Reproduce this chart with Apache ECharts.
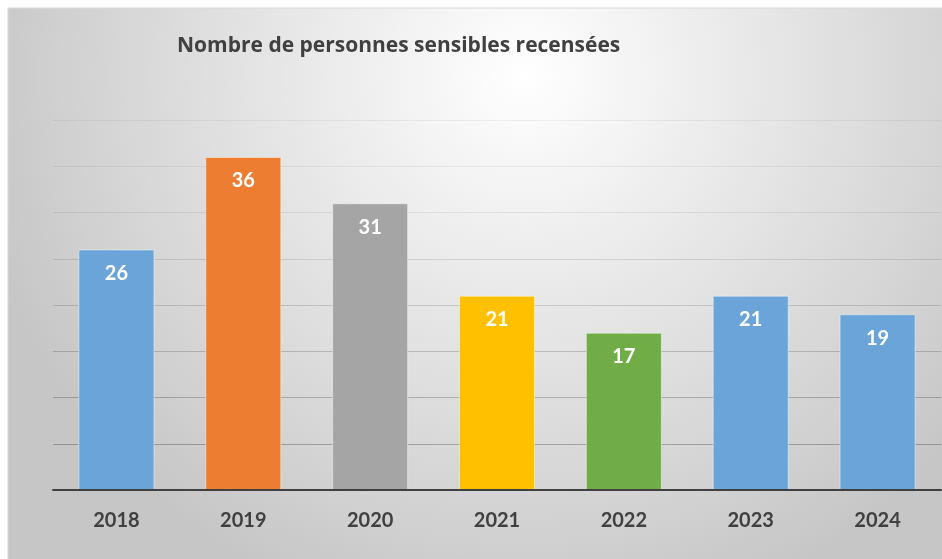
<!DOCTYPE html>
<html>
<head>
<meta charset="utf-8">
<title>Nombre de personnes sensibles recensées</title>
<script src="https://cdn.jsdelivr.net/npm/echarts@6/dist/echarts.min.js"></script>
<style>
  html, body { margin: 0; padding: 0; background: #ffffff; }
  #chart { width: 942px; height: 559px; }
</style>
</head>
<body>
<div id="chart"></div>
<script>
// données du graphique
var years = ['2018', '2019', '2020', '2021', '2022', '2023', '2024'];
var counts = [26, 36, 31, 21, 17, 21, 19];
var barColors = ['#6aa4d8', '#ed7d31', '#a5a5a5', '#ffc000', '#70ad47', '#6aa4d8', '#6aa4d8'];
// gridlines get darker towards the bottom, like in the original
var gridColors = ['rgba(0,0,0,0)', 'rgba(0,0,0,0.26)', 'rgba(0,0,0,0.22)', 'rgba(0,0,0,0.18)',
  'rgba(0,0,0,0.14)', 'rgba(0,0,0,0.11)', 'rgba(0,0,0,0.08)', 'rgba(0,0,0,0.06)', 'rgba(0,0,0,0.05)'];

var myChart = echarts.init(document.getElementById('chart'));

var option = {
	animation: false,
	graphic: [{
		type: 'rect',
		z: -10,
		silent: true,
		shape: { x: 8, y: 8, width: 940, height: 560 },
		style: {
			fill: {
				type: 'radial',
				x: 0.55, y: 0.12, r: 1.0,
				colorStops: [
					{ offset: 0, color: '#ffffff' },
					{ offset: 0.8, color: '#d2d2d2' },
					{ offset: 1, color: '#c6c6c6' }
				]
			},
			stroke: '#d9d9d9',
			lineWidth: 1
		}
	}],
	title: {
		text: 'Nombre de personnes sensibles recensées',
		left: 172,
		top: 31,
		textStyle: {
			fontFamily: 'Open Sans',
			fontSize: 21,
			fontWeight: 'bold',
			color: '#404040'
		}
	},
	grid: {
		left: 53,
		right: 1,
		top: 120,
		bottom: 69,
		containLabel: false
	},
	xAxis: {
		type: 'category',
		data: years,
		axisTick: { show: false },
		axisLine: { lineStyle: { color: '#404040', width: 2 } },
		axisLabel: {
			margin: 21,
			fontFamily: 'Lato',
			fontSize: 20,
			fontWeight: 'bold',
			color: '#404040'
		},
		z: 4
	},
	yAxis: {
		type: 'value',
		min: 0,
		max: 40,
		interval: 5,
		axisLabel: { show: false },
		axisLine: { show: false },
		axisTick: { show: false },
		splitLine: { lineStyle: { color: gridColors, width: 1 } }
	},
	series: [{
		type: 'bar',
		data: counts.map(function(v, i) {
			return { value: v, itemStyle: { color: barColors[i] } };
		}),
		barWidth: 76,
		itemStyle: {
			borderColor: 'rgba(255,255,255,0.45)',
			borderWidth: 1
		},
		label: {
			show: true,
			position: 'insideTop',
			distance: 14,
			fontFamily: 'Lato',
			fontSize: 20,
			fontWeight: 'bold',
			color: '#ffffff'
		}
	}]
};

myChart.setOption(option);
</script>
</body>
</html>
